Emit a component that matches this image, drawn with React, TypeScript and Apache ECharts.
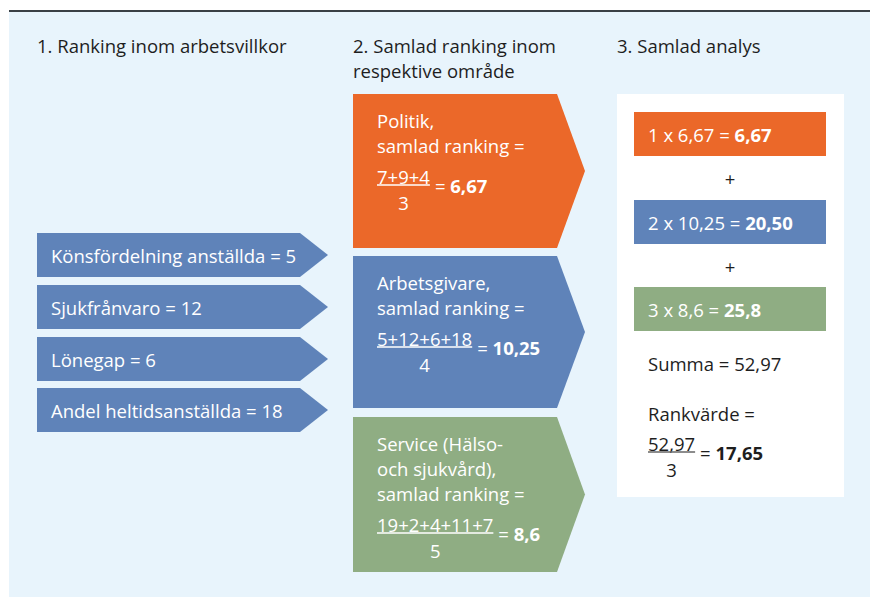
import React, { useEffect, useRef } from "react";
import * as echarts from "echarts";

// ---- data ----
const headers = ["1. Ranking inom arbetsvillkor", "2. Samlad ranking inom\nrespektive område", "3. Samlad analys"];
const conditions = ["Könsfördelning anställda", "Sjukfrånvaro", "Lönegap", "Andel heltidsanställda"];
const conditionRanks = [5, 12, 6, 18];
const areaNames = ["Politik,", "Arbetsgivare,", "Service (Hälso-\noch sjukvård),"];
const areaRankParts = [[7, 9, 4], [5, 12, 6, 18], [19, 2, 4, 11, 7]];
const areaScores = ["6,67", "10,25", "8,6"];
const weights = [1, 2, 3];
const weightedScores = ["6,67", "20,50", "25,8"];
const totalSum = "52,97";
const totalDivisor = 3;
const rankValue = "17,65";

// ---- style ----
const COLORS = ["#eb6829", "#5f83b9", "#8fad83"];
const BG = "#e8f4fc";
const FONT = '"Open Sans", "Noto Sans", sans-serif';
const FS = 18.5;

let ctx: CanvasRenderingContext2D | null = null;
function measure(text: string, size: number, weight: string | number = "normal") {
  if (!ctx) ctx = document.createElement("canvas").getContext("2d");
  if (!ctx) return text.length * size * 0.5;
  ctx.font = `${weight} ${size}px ${FONT}`;
  return ctx.measureText(text).width;
}

function txt(text: string, x: number, y: number, fill: string, weight: string | number = "normal", align = "left", size = FS) {
  return {
    type: "text",
    x,
    y,
    style: { text, fill, fontSize: size, fontFamily: FONT, fontWeight: weight, verticalAlign: "middle", align },
  };
}

function fraction(nums: string, den: string, result: string, x: number, y: number, fill: string, lineColor: string) {
  const els: any[] = [];
  const w = measure(nums, FS);
  els.push(txt(nums, x, y, fill));
  els.push({ type: "line", shape: { x1: x, y1: y + 9, x2: x + w, y2: y + 9 }, style: { stroke: lineColor, lineWidth: 1.3 } });
  els.push(txt(den, x + w / 2, y + 26, fill, "normal", "center"));
  const eq = "= ";
  const ex = x + w + 5;
  els.push(txt(eq, ex, y + 9, fill));
  els.push(txt(result, ex + measure(eq, FS), y + 9, fill, "bold"));
  return els;
}

export default function App() {
  const ref = useRef<HTMLDivElement>(null);
  useEffect(() => {
    if (!ref.current) return;
    const chart = echarts.init(ref.current, null, { renderer: "svg" });
    const els: any[] = [];
    // background & top rule
    els.push({ type: "rect", shape: { x: 9, y: 11, width: 861, height: 586 }, style: { fill: BG } });
    els.push({ type: "line", shape: { x1: 9, y1: 11, x2: 870, y2: 11 }, style: { stroke: "#3a4045", lineWidth: 2 } });

    // headers
    const hx = [37, 353, 617];
    headers.forEach((h, i) => {
      h.split("\n").forEach((line, j) => els.push(txt(line, hx[i], 45 + j * 25, "#1e1e1e", "normal", "left", 18.5)));
    });

    // left arrows
    const lTops = [233, 285, 337, 388];
    conditions.forEach((c, i) => {
      const t = lTops[i];
      const h = 44;
      els.push({
        type: "polygon",
        shape: { points: [[37, t], [300, t], [328, t + h / 2], [300, t + h], [37, t + h]] },
        style: { fill: COLORS[1] },
      });
      els.push(txt(`${c} = ${conditionRanks[i]}`, 51, t + h / 2, "#fff"));
    });

    // middle arrows
    const mBoxes = [[94, 248], [256, 408], [417, 572]];
    areaNames.forEach((name, i) => {
      const [t, b] = mBoxes[i];
      const m = (t + b) / 2;
      els.push({
        type: "polygon",
        shape: { points: [[353, t], [557, t], [585, m], [557, b], [353, b]] },
        style: { fill: COLORS[i] },
      });
      const lines = [...name.split("\n"), "samlad ranking ="];
      const y0 = t + 26;
      lines.forEach((ln, j) => els.push(txt(ln, 377, y0 + j * 25, "#fff")));
      const ny = y0 + (lines.length - 1) * 25 + 31;
      els.push(
        ...fraction(areaRankParts[i].join("+"), String(areaRankParts[i].length), areaScores[i], 377, ny, "#fff", "#fff")
      );
    });

    // right panel
    els.push({ type: "rect", shape: { x: 617, y: 94, width: 227, height: 403 }, style: { fill: "#fff" } });
    const rTops = [112, 200, 287];
    weights.forEach((w, i) => {
      const t = rTops[i];
      els.push({ type: "rect", shape: { x: 634, y: t, width: 192, height: 44 }, style: { fill: COLORS[i] } });
      const pre = `${w} x ${areaScores[i]} = `;
      els.push(txt(pre, 648, t + 22, "#fff"));
      els.push(txt(weightedScores[i], 648 + measure(pre, FS), t + 22, "#fff", "bold"));
      if (i < weights.length - 1) els.push(txt("+", 730, t + 66, "#1e1e1e", "normal", "center"));
    });
    els.push(txt(`Summa = ${totalSum}`, 648, 363, "#1e1e1e"));
    els.push(txt("Rankvärde =", 648, 413, "#1e1e1e"));
    els.push(...fraction(totalSum, String(totalDivisor), rankValue, 648, 443, "#1e1e1e", "#666"));

    chart.setOption({ animation: false, graphic: { elements: els } });
    return () => chart.dispose();
  }, []);
  return <div ref={ref} style={{ position: "absolute", left: 0, top: 0, width: 870, height: 597 }} />;
}
